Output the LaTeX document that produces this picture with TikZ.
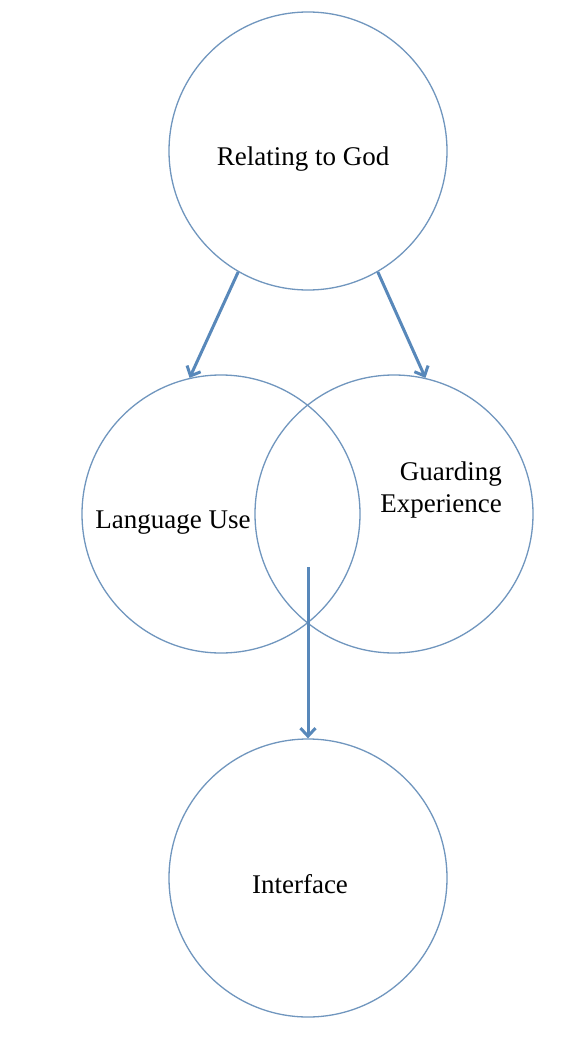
\documentclass[tikz,border=0pt]{standalone}
\usepackage{fontspec}
\setmainfont{Liberation Serif}
\usetikzlibrary{arrows.meta}
\definecolor{ringblue}{RGB}{112,150,190}
\definecolor{arrowblue}{RGB}{88,136,186}
\tikzset{
  ring/.style={circle, draw=ringblue, line width=1.3pt, minimum size=278pt, inner sep=0pt},
  lbl/.style={font=\fontsize{27}{32}\selectfont, text=black, inner sep=0pt},
  link/.style={draw=arrowblue, line width=3pt, -{Straight Barb[length=8pt,width=15pt,line width=3pt]}}
}
\begin{document}
\begin{tikzpicture}[x=1pt,y=-1pt]
\useasboundingbox[fill=white] (0,0) rectangle (585,1038);
\node[ring] (god) at (308,151) {};
\node[ring] (lu) at (221,514) {};
\node[ring] (ge) at (394,514) {};
\node[ring] (ifc) at (308,878) {};
\node[lbl, anchor=base] (tgod) at (303,165) {Relating to God};
\node[lbl, anchor=base] (tlu) at (173,528) {Language Use};
\node[lbl, anchor=base east, align=right] (tge) at (502,512) {Guarding\\Experience};
\node[lbl, anchor=base] (tifc) at (300,893) {Interface};
\coordinate (s) at (308,567);
\draw[link] (god.240) -- (lu.103);
\draw[link] (god.300) -- (ge.77);
\draw[link] (s) -- (ifc.north);
\end{tikzpicture}
\end{document}
